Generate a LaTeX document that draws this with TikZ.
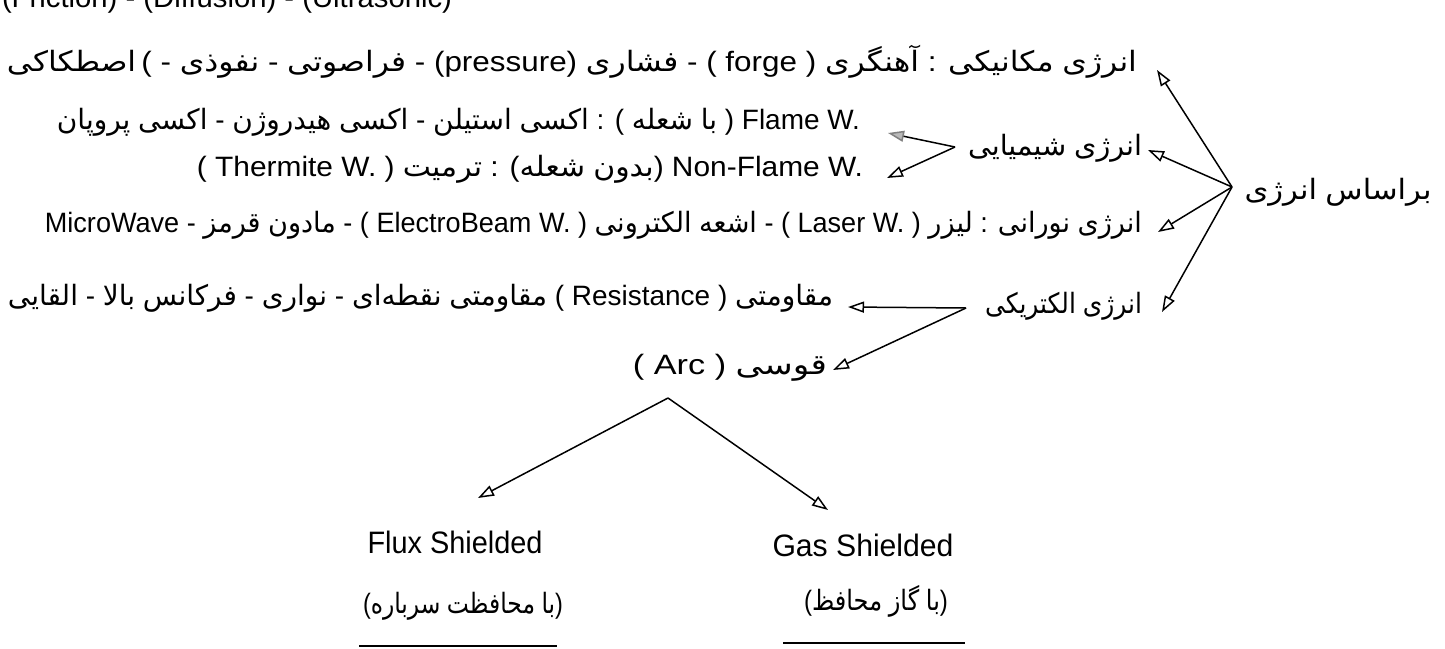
\documentclass[tikz,border=0pt]{standalone}
\usepackage{fontspec}
\usepackage{graphicx}
\usetikzlibrary{arrows.meta}
\setmainfont{Liberation Sans}
\newfontfamily\farsifont[Script=Arabic]{DejaVu Sans}
% Persian words are placed one by one in their visual (left-to-right) order
\newcommand{\fw}[1]{{\farsifont #1}}
\newcommand{\fitw}[2]{\resizebox{#1}{\height}{#2}}
\begin{document}
\begin{tikzpicture}[x=1pt,y=-1pt,
  every node/.style={inner sep=0pt, outer sep=0pt, font=\fontsize{28}{32}\selectfont},
  big/.style={font=\fontsize{31}{36}\selectfont},
  arr/.style={line width=1.5pt, -{Triangle[open,length=16pt,width=11pt,line width=1.5pt]}},
  arrgray/.style={line width=1.5pt, -{Triangle[length=16pt,width=11pt,fill=gray!55,color=gray]}},
  uline/.style={line width=2.2pt}]
\useasboundingbox[fill=white] (0,0) rectangle (1445,648);

% partially cut line at the top
\node[anchor=base west] (topnote) at (2,7) {\fitw{450pt}{(Friction) - (Diffusion) - (Ultrasonic)}};

% root
\node (root) at (1338,192) {\fitw{187pt}{\fw{انرژی} \fw{براساس}}};

% mechanical
\node[anchor=east] (mech) at (1137,62) {\fitw{1130pt}{\fw{اصطکاکی}\,( - \fw{نفوذی} - \fw{فراصوتی} - (pressure) \fw{فشاری} - ( forge ) \fw{آهنگری} : \fw{مکانیکی} \fw{انرژی}}};

% chemical
\node[anchor=east] (chem) at (1142,148) {\fitw{174pt}{\fw{شیمیایی} \fw{انرژی}}};
\node[anchor=east] (flame) at (860,122) {\fitw{803pt}{\fw{پروپان} \fw{اکسی} - \fw{هیدروژن} \fw{اکسی} - \fw{استیلن} \fw{اکسی} : ( \fw{شعله} \fw{با} ) Flame W.}};
\node[anchor=east] (nonflame) at (863,169) {\fitw{666pt}{( Thermite W. ) \fw{ترمیت} : (\fw{شعله} \fw{بدون}) Non-Flame W.}};

% light
\node[anchor=east] (light) at (1142,225) {\fitw{1097pt}{MicroWave - \fw{قرمز} \fw{مادون} - ( ElectroBeam W. ) \fw{الکترونی} \fw{اشعه} - ( Laser W. ) \fw{لیزر} : \fw{نورانی} \fw{انرژی}}};

% electrical
\node[anchor=east] (elec) at (1142,306) {\fitw{157pt}{\fw{الکتریکی} \fw{انرژی}}};
\node[anchor=east] (resist) at (833,298) {\fitw{825pt}{\fw{القایی} - \fw{بالا} \fw{فرکانس} - \fw{نواری} - \fw{نقطه‌ای} \fw{مقاومتی} ( Resistance ) \fw{مقاومتی}}};
\node[anchor=east] (arc) at (827,368) {\fitw{194pt}{( Arc ) \fw{قوسی}}};

% arc children
\node[big] (flux) at (455,542) {\fitw{175pt}{Flux Shielded}};
\node (fluxfa) at (463,606) {\fitw{200pt}{(\fw{سرباره} \fw{محافظت} \fw{با})}};
\node[big] (gas) at (863,545) {\fitw{181pt}{Gas Shielded}};
\node (gasfa) at (876,601) {\fitw{144pt}{(\fw{محافظ} \fw{گاز} \fw{با})}};

% vertices and arrow tips
\coordinate (vroot) at (1232,187);
\coordinate (tmech) at (1157,70);
\coordinate (tchem) at (1148,150);
\coordinate (tlight) at (1158,232);
\coordinate (telec) at (1162,312);
\coordinate (vchem) at (955,147);
\coordinate (tflame) at (888,133);
\coordinate (tnonflame) at (887,178);
\coordinate (velec) at (966,308);
\coordinate (tresist) at (848,307);
\coordinate (tarc) at (833,370);
\coordinate (varc) at (668,398);
\coordinate (tflux) at (478,498);
\coordinate (tgas) at (828,510);

\draw[arr] (vroot) -- (tmech);
\draw[arr] (vroot) -- (tchem);
\draw[arr] (vroot) -- (tlight);
\draw[arr] (vroot) -- (telec);
\draw[arrgray] (vchem) -- (tflame);
\draw[arr] (vchem) -- (tnonflame);
\draw[arr] (velec) -- (tresist);
\draw[arr] (velec) -- (tarc);
\draw[arr] (varc) -- (tflux);
\draw[arr] (varc) -- (tgas);

% underlines
\coordinate (ul1a) at (359,646); \coordinate (ul1b) at (557,646);
\coordinate (ul2a) at (783,643); \coordinate (ul2b) at (965,643);
\draw[uline] (ul1a) -- (ul1b);
\draw[uline] (ul2a) -- (ul2b);
\end{tikzpicture}
\end{document}
